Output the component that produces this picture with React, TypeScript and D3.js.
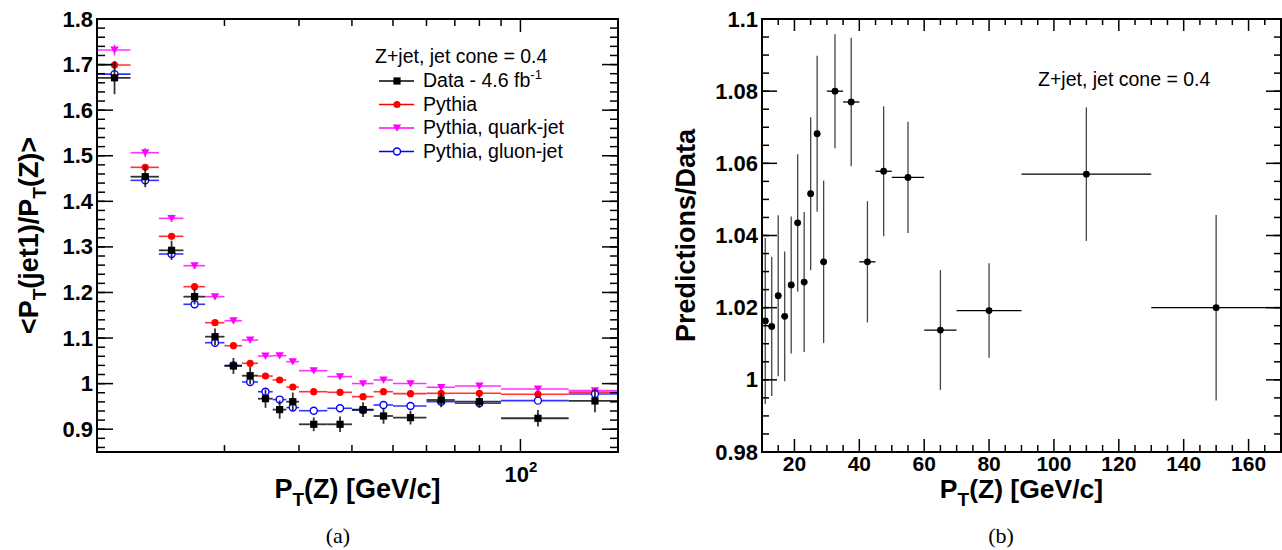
import React from 'react';
import * as d3 from 'd3';

// ---------- data ----------
const binLo = [10, 12, 14, 16, 18, 20, 22, 24, 26, 28, 30, 35, 40, 45, 50, 60, 70, 90, 130];
const binHi = [12, 14, 16, 18, 20, 22, 24, 26, 28, 30, 35, 40, 45, 50, 60, 70, 90, 130, 170];
const binCenter = [11, 13, 15, 17, 19, 21, 23, 25, 27, 29, 32.5, 37.5, 42.5, 47.5, 55, 65, 80, 110, 150];

const dataVal = [1.671, 1.454, 1.2925, 1.1908, 1.103, 1.0387, 1.0174, 0.967, 0.9430, 0.9604, 0.9108, 0.9108, 0.9430, 0.929, 0.9253, 0.9641, 0.9604, 0.924, 0.962];
const dataErr = [0.036, 0.023, 0.021, 0.017, 0.018, 0.0175, 0.019, 0.02, 0.02, 0.02, 0.015, 0.017, 0.016, 0.017, 0.015, 0.016, 0.013, 0.018, 0.025];
const pythiaVal = [1.699, 1.4746, 1.3232, 1.2127, 1.1337, 1.0832, 1.0446, 1.0167, 1.008, 0.9926, 0.9823, 0.981, 0.9714, 0.9823, 0.978, 0.9788, 0.9788, 0.9766, 0.981];
const pythiaErr = [0.008, 0.007, 0.006, 0.005, 0.005, 0.004, 0.004, 0.004, 0.004, 0.004, 0.003, 0.003, 0.003, 0.003, 0.003, 0.003, 0.003, 0.003, 0.004];
const quarkVal = [1.732, 1.5067, 1.3627, 1.2588, 1.1908, 1.138, 1.0957, 1.0606, 1.0613, 1.0482, 1.0284, 1.0153, 1.0002, 1.008, 1.0002, 0.992, 0.9948, 0.9883, 0.9846];
const quarkErr = [0.012, 0.01, 0.008, 0.007, 0.006, 0.006, 0.006, 0.005, 0.005, 0.005, 0.004, 0.004, 0.004, 0.004, 0.004, 0.004, 0.004, 0.004, 0.006];
const gluonVal = [1.679, 1.446, 1.2844, 1.1741, 1.0898, 1.040, 1.0036, 0.9823, 0.9650, 0.9475, 0.9406, 0.9459, 0.942, 0.9532, 0.951, 0.9604, 0.9568, 0.9627, 0.9773];
const gluonErr = [0.007, 0.006, 0.005, 0.005, 0.005, 0.004, 0.004, 0.004, 0.004, 0.004, 0.003, 0.003, 0.003, 0.003, 0.003, 0.003, 0.003, 0.004, 0.005];

const ratioVal = [1.0163, 1.0148, 1.0233, 1.0176, 1.0263, 1.0435, 1.0271, 1.0516, 1.0682, 1.0327, 1.080, 1.077, 1.0327, 1.0578, 1.0561, 1.0138, 1.0192, 1.057, 1.020];
const ratioErr = [0.023, 0.0193, 0.0223, 0.018, 0.019, 0.019, 0.0194, 0.0212, 0.0216, 0.0225, 0.0158, 0.0178, 0.0168, 0.018, 0.0154, 0.0166, 0.0131, 0.0185, 0.0257];

const leftYTicks = [0.9, 1.0, 1.1, 1.2, 1.3, 1.4, 1.5, 1.6, 1.7, 1.8];
const leftYTickLabels = ['0.9', '1', '1.1', '1.2', '1.3', '1.4', '1.5', '1.6', '1.7', '1.8'];
const leftXMinorTicks = [20, 30, 40, 50, 60, 70, 80, 90];
const leftXMajorTicks = [100];
const rightYTicks = [0.98, 1.0, 1.02, 1.04, 1.06, 1.08, 1.1];
const rightYTickLabels = ['0.98', '1', '1.02', '1.04', '1.06', '1.08', '1.1'];
const rightXTicks = [20, 40, 60, 80, 100, 120, 140, 160];

const legendHeader = 'Z+jet, jet cone = 0.4';
const legendLabels = ['Data - 4.6 fb', 'Pythia', 'Pythia, quark-jet', 'Pythia, gluon-jet'];

// ---------- styling ----------
const FONT = "'Liberation Sans', Arial, Helvetica, sans-serif";
const SERIF = "'Liberation Serif', 'DejaVu Serif', serif";
const COL = { data: '#000000', pythia: '#ff0000', quark: '#ff00ff', gluon: '#0000ff' };

// panel geometry
const L = { x0: 97, x1: 618, y0: 19, y1: 452 };
const R = { x0: 762, x1: 1281, y0: 19, y1: 452 };

const xL = d3.scaleLog().domain([10, 170]).range([L.x0, L.x1]);
const yL = d3.scaleLinear().domain([0.85, 1.8]).range([L.y1, L.y0]);
const xR = d3.scaleLinear().domain([10, 170]).range([R.x0, R.x1]);
const yR = d3.scaleLinear().domain([0.98, 1.1]).range([R.y1, R.y0]);

type MarkerKind = 'square' | 'circle' | 'tri' | 'open';

function Marker({ kind, x, y, color }: { kind: MarkerKind; x: number; y: number; color: string }) {
  if (kind === 'square') return <rect x={x - 3.6} y={y - 3.6} width={7.2} height={7.2} fill={color} />;
  if (kind === 'circle') return <circle cx={x} cy={y} r={3.6} fill={color} />;
  if (kind === 'open') return <circle cx={x} cy={y} r={3.5} fill="white" stroke={color} strokeWidth={1.4} />;
  const p = d3.path();
  p.moveTo(x - 4.2, y - 3.4);
  p.lineTo(x + 4.2, y - 3.4);
  p.lineTo(x, y + 3.8);
  p.closePath();
  return <path d={p.toString()} fill={color} />;
}

function Series({ vals, errs, color, kind, lineW }: { vals: number[]; errs: number[]; color: string; kind: MarkerKind; lineW: number }) {
  return (
    <g>
      {vals.map((v, i) => (
        <g key={i}>
          <line x1={xL(binLo[i])} x2={xL(binHi[i])} y1={yL(v)} y2={yL(v)} stroke={color} strokeWidth={lineW} strokeOpacity={0.8} />
          <line x1={xL(binCenter[i])} x2={xL(binCenter[i])} y1={yL(v - errs[i])} y2={yL(v + errs[i])} stroke={color} strokeWidth={lineW} strokeOpacity={0.8} />
          <Marker kind={kind} x={xL(binCenter[i])} y={yL(v)} color={color} />
        </g>
      ))}
    </g>
  );
}

function LeftPanel() {
  const minorY = d3.range(43, 91).map((k) => k * 0.02).filter((v) => v > 0.851 && v < 1.799);
  return (
    <g>
      {/* series */}
      <Series vals={quarkVal} errs={quarkErr} color={COL.quark} kind="tri" lineW={1.6} />
      <Series vals={pythiaVal} errs={pythiaErr} color={COL.pythia} kind="circle" lineW={1.6} />
      <Series vals={gluonVal} errs={gluonErr} color={COL.gluon} kind="open" lineW={1.6} />
      <Series vals={dataVal} errs={dataErr} color={COL.data} kind="square" lineW={1.8} />

      {/* frame */}
      <rect x={L.x0} y={L.y0} width={L.x1 - L.x0} height={L.y1 - L.y0} fill="none" stroke="#000" strokeWidth={2} />

      {/* y ticks */}
      {minorY.map((v, i) => (
        <g key={'my' + i} stroke="#000" strokeWidth={1.5}>
          <line x1={L.x0} x2={L.x0 + 8} y1={yL(v)} y2={yL(v)} />
          <line x1={L.x1} x2={L.x1 - 8} y1={yL(v)} y2={yL(v)} />
        </g>
      ))}
      {leftYTicks.map((v, i) => (
        <g key={'Y' + i}>
          <line x1={L.x0} x2={L.x0 + 16} y1={yL(v)} y2={yL(v)} stroke="#000" strokeWidth={1.5} />
          <line x1={L.x1} x2={L.x1 - 16} y1={yL(v)} y2={yL(v)} stroke="#000" strokeWidth={1.5} />
          <text x={L.x0 - 4} y={yL(v) + 7.5} textAnchor="end" fontFamily={FONT} fontWeight="bold" fontSize={22}>
            {leftYTickLabels[i]}
          </text>
        </g>
      ))}

      {/* x ticks */}
      {leftXMinorTicks.map((v, i) => (
        <g key={'mx' + i} stroke="#000" strokeWidth={1.5}>
          <line x1={xL(v)} x2={xL(v)} y1={L.y1} y2={L.y1 - 7} />
          <line x1={xL(v)} x2={xL(v)} y1={L.y0} y2={L.y0 + 7} />
        </g>
      ))}
      {leftXMajorTicks.map((v, i) => (
        <g key={'MX' + i}>
          <line x1={xL(v)} x2={xL(v)} y1={L.y1} y2={L.y1 - 13} stroke="#000" strokeWidth={1.5} />
          <line x1={xL(v)} x2={xL(v)} y1={L.y0} y2={L.y0 + 13} stroke="#000" strokeWidth={1.5} />
          <text x={xL(v) - 16} y={482} fontFamily={FONT} fontWeight="bold" fontSize={22}>
            10<tspan fontSize={15} dy={-10}>2</tspan>
          </text>
        </g>
      ))}

      {/* axis titles */}
      <text x={(L.x0 + L.x1) / 2} y={498} textAnchor="middle" fontFamily={FONT} fontWeight="bold" fontSize={27}>
        P<tspan fontSize={19} dy={8}>T</tspan>
        <tspan dy={-8}>(Z) [GeV/c]</tspan>
      </text>
      <text transform={`translate(38,${(L.y0 + L.y1) / 2}) rotate(-90)`} textAnchor="middle" fontFamily={FONT} fontWeight="bold" fontSize={27}>
        {'<P'}
        <tspan fontSize={19} dy={8}>T</tspan>
        <tspan dy={-8}>(jet1)/P</tspan>
        <tspan fontSize={19} dy={8}>T</tspan>
        <tspan dy={-8}>{'(Z)>'}</tspan>
      </text>

      {/* legend */}
      <text x={375} y={63} fontFamily={FONT} fontSize={19.5}>
        {legendHeader}
      </text>
      {legendLabels.map((lab, i) => {
        const by = 87.3 + i * 23.5;
        const ly = by - 6.3;
        const kinds: MarkerKind[] = ['square', 'circle', 'tri', 'open'];
        const cols = [COL.data, COL.pythia, COL.quark, COL.gluon];
        return (
          <g key={'lg' + i}>
            <line x1={379} x2={414} y1={ly} y2={ly} stroke={cols[i]} strokeWidth={1.5} />
            <Marker kind={kinds[i]} x={397} y={ly} color={cols[i]} />
            <text x={423} y={by} fontFamily={FONT} fontSize={19.5}>
              {lab}
              {i === 0 ? <tspan fontSize={13} dy={-8}>-1</tspan> : null}
            </text>
          </g>
        );
      })}

      <text x={338} y={543} textAnchor="middle" fontFamily={SERIF} fontSize={22}>
        (a)
      </text>
    </g>
  );
}

function RightPanel() {
  const minorY = d3.range(196, 221).map((k) => k * 0.005).filter((v) => v > 0.981 && v < 1.099);
  const minorX = d3.range(3, 34).map((k) => k * 5).filter((v) => v > 10 && v < 170 && v % 20 !== 0);
  return (
    <g>
      {ratioVal.map((v, i) => (
        <g key={i}>
          <line x1={xR(binLo[i])} x2={xR(binHi[i])} y1={yR(v)} y2={yR(v)} stroke="#000" strokeWidth={1.3} />
          <line x1={xR(binCenter[i])} x2={xR(binCenter[i])} y1={yR(v - ratioErr[i])} y2={yR(v + ratioErr[i])} stroke="#444" strokeWidth={1.3} />
          <circle cx={xR(binCenter[i])} cy={yR(v)} r={3.4} fill="#000" />
        </g>
      ))}

      <rect x={R.x0} y={R.y0} width={R.x1 - R.x0} height={R.y1 - R.y0} fill="none" stroke="#000" strokeWidth={2} />

      {minorY.map((v, i) => (
        <g key={'my' + i} stroke="#000" strokeWidth={1.5}>
          <line x1={R.x0} x2={R.x0 + 7} y1={yR(v)} y2={yR(v)} />
          <line x1={R.x1} x2={R.x1 - 7} y1={yR(v)} y2={yR(v)} />
        </g>
      ))}
      {rightYTicks.map((v, i) => (
        <g key={'Y' + i}>
          <line x1={R.x0} x2={R.x0 + 15} y1={yR(v)} y2={yR(v)} stroke="#000" strokeWidth={1.5} />
          <line x1={R.x1} x2={R.x1 - 15} y1={yR(v)} y2={yR(v)} stroke="#000" strokeWidth={1.5} />
          <text x={R.x0 - 4} y={yR(v) + 7.5} textAnchor="end" fontFamily={FONT} fontWeight="bold" fontSize={22}>
            {rightYTickLabels[i]}
          </text>
        </g>
      ))}
      {minorX.map((v, i) => (
        <g key={'mx' + i} stroke="#000" strokeWidth={1.5}>
          <line x1={xR(v)} x2={xR(v)} y1={R.y1} y2={R.y1 - 7} />
          <line x1={xR(v)} x2={xR(v)} y1={R.y0} y2={R.y0 + 6} />
        </g>
      ))}
      {rightXTicks.map((v, i) => (
        <g key={'X' + i}>
          <line x1={xR(v)} x2={xR(v)} y1={R.y1} y2={R.y1 - 13} stroke="#000" strokeWidth={1.5} />
          <line x1={xR(v)} x2={xR(v)} y1={R.y0} y2={R.y0 + 12} stroke="#000" strokeWidth={1.5} />
          <text x={xR(v)} y={471} textAnchor="middle" fontFamily={FONT} fontWeight="bold" fontSize={21}>
            {String(v)}
          </text>
        </g>
      ))}

      <text x={(R.x0 + R.x1) / 2} y={498} textAnchor="middle" fontFamily={FONT} fontWeight="bold" fontSize={26.5}>
        P<tspan fontSize={19} dy={8}>T</tspan>
        <tspan dy={-8}>(Z) [GeV/c]</tspan>
      </text>
      <text transform={`translate(695,${(R.y0 + R.y1) / 2}) rotate(-90)`} textAnchor="middle" fontFamily={FONT} fontWeight="bold" fontSize={27}>
        Predictions/Data
      </text>

      <text x={1038} y={85.5} fontFamily={FONT} fontSize={19.5}>
        {legendHeader}
      </text>

      <text x={1001} y={543} textAnchor="middle" fontFamily={SERIF} fontSize={22}>
        (b)
      </text>
    </g>
  );
}

export default function App() {
  return (
    <svg
      width={1282}
      height={550}
      viewBox="0 0 1282 550"
      style={{ position: 'absolute', left: 0, top: 0, background: '#fff' }}
    >
      <rect x={0} y={0} width={1282} height={550} fill="#fff" />
      <LeftPanel />
      <RightPanel />
    </svg>
  );
}
